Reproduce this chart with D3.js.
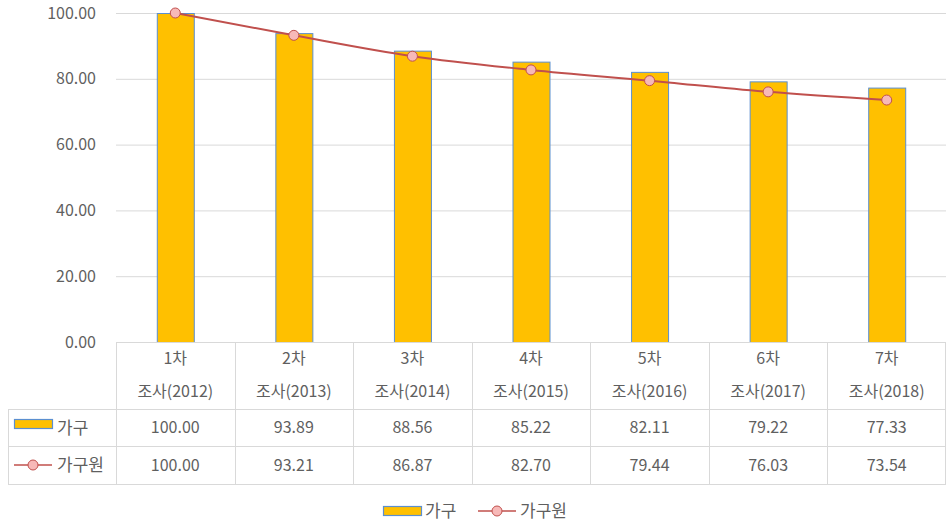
<html>
<head>
<meta charset="utf-8">
<script src="https://cdn.jsdelivr.net/npm/d3@7"></script>
<style>
  body { margin: 0; background: #fff; }
  text { font-family: "Noto Sans CJK KR", "Noto Sans", sans-serif; fill: #5f5f5f; }
</style>
</head>
<body>
<svg width="947" height="524"></svg>
<script>
const rounds = ["1차", "2차", "3차", "4차", "5차", "6차", "7차"];
const years = ["조사(2012)", "조사(2013)", "조사(2014)", "조사(2015)", "조사(2016)", "조사(2017)", "조사(2018)"];
const household = [100.00, 93.89, 88.56, 85.22, 82.11, 79.22, 77.33];
const members = [100.00, 93.21, 86.87, 82.70, 79.44, 76.03, 73.54];
const yTicks = [0, 20, 40, 60, 80, 100];
const seriesNames = ["가구", "가구원"];

const barFill = "#FFC000", barStroke = "#5b8fd0";
const lineColor = "#c0504d", markerFill = "#f7b9b8";
const gridColor = "#d9d9d9";

const svg = d3.select("svg");
const plotL = 116, plotR = 946, plotT = 13, plotB = 342;

const x = d3.scaleBand().domain(d3.range(rounds.length)).range([plotL, plotR]);
const y = d3.scaleLinear().domain([0, 100]).range([plotB, plotT]);

// gridlines
svg.append("g").selectAll("line").data(yTicks).enter().append("line")
  .attr("x1", plotL).attr("x2", plotR)
  .attr("y1", d => y(d) + 0.5).attr("y2", d => y(d) + 0.5)
  .attr("stroke", gridColor).attr("stroke-width", 1);

// y labels
svg.append("g").selectAll("text").data(yTicks).enter().append("text")
  .attr("x", 96).attr("y", d => y(d))
  .attr("dy", "0.35em").attr("text-anchor", "end")
  .style("font-size", "16px")
  .text(d => d3.format(".2f")(d));

// bars
const bw = 37;
svg.append("g").selectAll("rect").data(household).enter().append("rect")
  .attr("x", (d, i) => x(i) + x.bandwidth() / 2 - bw / 2 + 0.5)
  .attr("y", d => y(d) + 0.5)
  .attr("width", bw)
  .attr("height", d => plotB - y(d))
  .attr("fill", barFill)
  .attr("stroke", barStroke).attr("stroke-width", 1);

// line
const line = d3.line()
  .x((d, i) => x(i) + x.bandwidth() / 2)
  .y(d => y(d))
  .curve(d3.curveMonotoneX);
svg.append("path").datum(members)
  .attr("d", line)
  .attr("fill", "none").attr("stroke", lineColor).attr("stroke-width", 2);
svg.append("g").selectAll("circle").data(members).enter().append("circle")
  .attr("cx", (d, i) => x(i) + x.bandwidth() / 2)
  .attr("cy", d => y(d))
  .attr("r", 5)
  .attr("fill", markerFill).attr("stroke", lineColor).attr("stroke-width", 1);

// data table
const rowH = [plotB, 409, 446, 484];
const tableLeft = 8;
const tg = svg.append("g").attr("stroke", gridColor).attr("stroke-width", 1);
tg.append("line").attr("x1", plotL).attr("x2", plotR).attr("y1", rowH[0] + 0.5).attr("y2", rowH[0] + 0.5);
[1, 2, 3].forEach(k => {
  tg.append("line").attr("x1", tableLeft).attr("x2", plotR).attr("y1", rowH[k] + 0.5).attr("y2", rowH[k] + 0.5);
});
tg.append("line").attr("x1", tableLeft + 0.5).attr("x2", tableLeft + 0.5).attr("y1", rowH[1]).attr("y2", rowH[3]);
d3.range(rounds.length + 1).forEach(i => {
  const xx = i < rounds.length ? x(i) : plotR - 1;
  tg.append("line").attr("x1", Math.round(xx) + 0.5).attr("x2", Math.round(xx) + 0.5)
    .attr("y1", rowH[0]).attr("y2", rowH[3]);
});

// header text
svg.append("g").selectAll("text").data(rounds).enter().append("text")
  .attr("x", (d, i) => x(i) + x.bandwidth() / 2).attr("y", 358)
  .attr("dy", "0.35em").attr("text-anchor", "middle")
  .style("font-size", "16px").text(d => d);
svg.append("g").selectAll("text").data(years).enter().append("text")
  .attr("x", (d, i) => x(i) + x.bandwidth() / 2).attr("y", 391)
  .attr("dy", "0.35em").attr("text-anchor", "middle")
  .style("font-size", "16px").text(d => d);

// value rows
[household, members].forEach((vals, r) => {
  const cy = (rowH[r + 1] + rowH[r + 2]) / 2;
  svg.append("g").selectAll("text").data(vals).enter().append("text")
    .attr("x", (d, i) => x(i) + x.bandwidth() / 2).attr("y", cy)
    .attr("dy", "0.35em").attr("text-anchor", "middle")
    .style("font-size", "16px").text(d => d3.format(".2f")(d));
});

// legend keys
function barKey(g, kx, ky) {
  g.append("rect").attr("x", kx + 0.5).attr("y", ky + 0.5).attr("width", 38).attr("height", 9)
    .attr("fill", barFill).attr("stroke", barStroke).attr("stroke-width", 1.2);
}
function lineKey(g, kx, ky) {
  g.append("line").attr("x1", kx).attr("x2", kx + 38).attr("y1", ky).attr("y2", ky)
    .attr("stroke", lineColor).attr("stroke-width", 1.5);
  g.append("circle").attr("cx", kx + 19).attr("cy", ky).attr("r", 5)
    .attr("fill", markerFill).attr("stroke", lineColor).attr("stroke-width", 1);
}
const lg = svg.append("g");
barKey(lg, 14, 419);
lg.append("text").attr("x", 57).attr("y", 428).attr("dy", "0.35em").style("font-size", "17px").text(seriesNames[0]);
lineKey(lg, 14, 465);
lg.append("text").attr("x", 57).attr("y", 465).attr("dy", "0.35em").style("font-size", "17px").text(seriesNames[1]);

// bottom legend
barKey(lg, 383, 506);
lg.append("text").attr("x", 425).attr("y", 511).attr("dy", "0.35em").style("font-size", "17px").text(seriesNames[0]);
lineKey(lg, 478, 511);
lg.append("text").attr("x", 520).attr("y", 511).attr("dy", "0.35em").style("font-size", "17px").text(seriesNames[1]);
</script>
</body>
</html>
